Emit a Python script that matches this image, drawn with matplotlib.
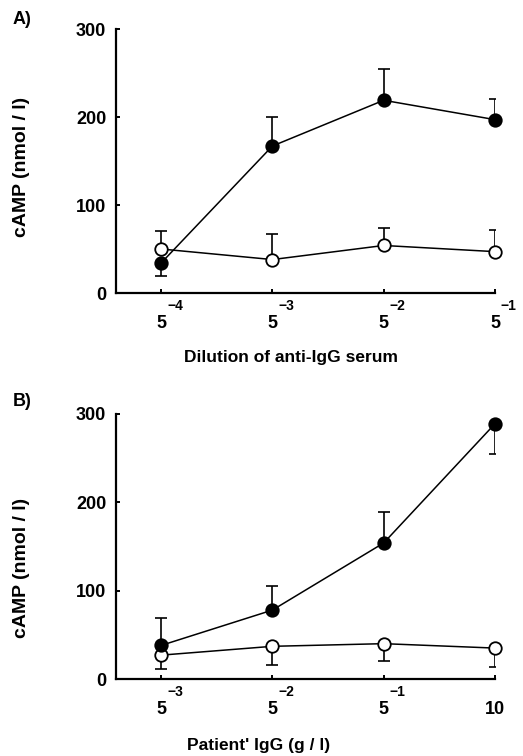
import matplotlib
matplotlib.use('Agg')
import matplotlib.pyplot as plt
import numpy as np

plt.rcParams['font.family'] = ['Liberation Sans', 'DejaVu Sans']
plt.rcParams['font.weight'] = 'bold'

# panel A: dilution of anti-IgG serum
a_sup = ['\u22124', '\u22123', '\u22122', '\u22121']
a_base = ['5', '5', '5', '5']
a_fill = [34, 167, 219, 197]
a_fill_lo = [15, 0, 0, 0]
a_fill_hi = [0, 33, 36, 23]
a_open = [50, 38, 54, 47]
a_open_lo = [0, 0, 0, 0]
a_open_hi = [21, 29, 20, 25]

# panel B: patient IgG
b_sup = ['\u22123', '\u22122', '\u22121', '']
b_base = ['5', '5', '5', '10']
b_fill = [38, 78, 154, 289]
b_fill_lo = [0, 0, 0, 34]
b_fill_hi = [31, 27, 35, 0]
b_open = [27, 37, 40, 35]
b_open_lo = [16, 21, 20, 21]
b_open_hi = [0, 0, 0, 0]

W, H = 523, 756
fig = plt.figure(figsize=(W/100, H/100), dpi=100)

def px_axes(l, t, r, b):
    return fig.add_axes([l/W, 1-b/H, (r-l)/W, (b-t)/H])

def panel(ax, base, sup, fill, flo, fhi, opn, olo, ohi, xlabel, xl_pos, yl_pos, open_top):
    x = np.arange(len(base))
    zf, zo = (3, 4) if open_top else (4, 3)
    ax.errorbar(x, fill, yerr=[flo, fhi], fmt='none', ecolor='black',
                elinewidth=1.2, capsize=4.5, capthick=1.2, zorder=zf-0.5)
    ax.errorbar(x, opn, yerr=[olo, ohi], fmt='none', ecolor='black',
                elinewidth=1.2, capsize=4.5, capthick=1.2, zorder=zo-0.5)
    ax.plot(x, fill, '-o', color='black', lw=1.1, ms=9, mfc='black',
            mec='black', mew=1.3, zorder=zf, clip_on=False)
    ax.plot(x, opn, '-o', color='black', lw=1.1, ms=9, mfc='white',
            mec='black', mew=1.3, zorder=zo, clip_on=False)
    ax.set_xlim(-0.405, 3.0)
    ax.set_ylim(0, 300)
    ax.set_yticks([0, 100, 200, 300])
    ax.set_xticks(x)
    ax.set_xticklabels(base, fontsize=13, fontweight='bold')
    for lab in ax.get_yticklabels():
        lab.set_fontsize(13)
        lab.set_fontweight('bold')
    for i, s in enumerate(sup):
        if s:
            ax.annotate(s, xy=(x[i], 0), xycoords=('data', 'axes fraction'),
                        xytext=(10, -9.5), textcoords='offset points',
                        ha='center', va='center', fontsize=10, fontweight='bold')
    ax.tick_params(axis='both', direction='in', length=3, width=1.4)
    ax.tick_params(axis='x', pad=16)
    ax.tick_params(axis='y', pad=7)
    for s in ['top', 'right']:
        ax.spines[s].set_visible(False)
    for s in ['left', 'bottom']:
        ax.spines[s].set_linewidth(1.6)
    ax.set_ylabel('cAMP (nmol / l)', fontsize=14, fontweight='bold')
    ax.yaxis.set_label_coords(-0.227, yl_pos)
    ax.set_xlabel(xlabel, fontsize=12.5, fontweight='bold')
    ax.xaxis.set_label_coords(xl_pos[0], xl_pos[1])

axA = px_axes(116, 29, 495, 293)
panel(axA, a_base, a_sup, a_fill, a_fill_lo, a_fill_hi, a_open, a_open_lo,
      a_open_hi, 'Dilution of anti-IgG serum', (0.462, -0.216), 0.477, True)
axB = px_axes(116, 414, 495, 679)
panel(axB, b_base, b_sup, b_fill, b_fill_lo, b_fill_hi, b_open, b_open_lo,
      b_open_hi, "Patient' IgG (g / l)", (0.377, -0.223), 0.42, False)

fig.text(22/W, 1-19/H, 'A)', fontsize=13, fontweight='bold', ha='center', va='center')
fig.text(22/W, 1-401/H, 'B)', fontsize=13, fontweight='bold', ha='center', va='center')

fig.savefig('out.png', dpi=100)
